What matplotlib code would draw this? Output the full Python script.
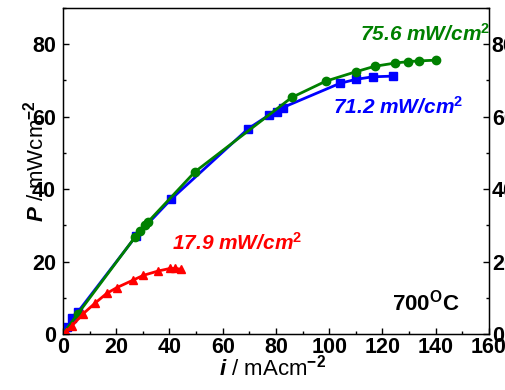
import numpy as np
import matplotlib
matplotlib.use('Agg')
import matplotlib.pyplot as plt
from matplotlib.ticker import MultipleLocator

fam = 'Liberation Sans'
plt.rcParams['font.family'] = fam
plt.rcParams['font.weight'] = 'bold'
plt.rcParams['mathtext.fontset'] = 'custom'
plt.rcParams['mathtext.rm'] = fam + ':bold'
plt.rcParams['mathtext.bf'] = fam + ':bold'
plt.rcParams['mathtext.it'] = fam + ':bold:italic'

# green circles (75.6 mW/cm2)
i_green = [0, 5.5, 27, 28.9, 30.8, 32, 49.6, 85.9, 98.7, 110, 117, 124.7, 129.7, 133.8, 140]
p_green = [0, 5.5, 26.7, 28.4, 30, 31, 44.8, 65.3, 69.8, 72.4, 73.9, 74.8, 75.2, 75.4, 75.6]

# blue squares (71.2 mW/cm2)
i_blue = [0, 1.4, 3.5, 5.6, 27.4, 40.6, 69.6, 77.5, 80.5, 82.5, 104, 110, 116.3, 124]
p_blue = [0, 1.8, 4.3, 6.1, 27, 37.2, 56.7, 60.5, 61.3, 62.5, 69.2, 70.3, 71.0, 71.2]

# red triangles (17.9 mW/cm2)
i_red = [0, 1, 3.3, 7.6, 12, 16.4, 20.2, 26.4, 30.2, 35.8, 40.2, 42, 44.3]
p_red = [0, 0.6, 2.2, 5.6, 8.5, 11.2, 12.8, 14.9, 16.2, 17.4, 18.1, 18.1, 17.9]

fig = plt.figure(figsize=(5.06, 3.90), dpi=100)
ax = fig.add_axes([63/506, 1-334/390, 426/506, 326/390])

ax.plot(i_blue, p_blue, color='#0000ff', marker='s', ms=5.5, lw=2, zorder=3)
ax.plot(i_green, p_green, color='#008000', marker='o', ms=6, lw=2, zorder=4)
ax.plot(i_red, p_red, color='#ff0000', marker='^', ms=6, lw=2, zorder=5)

ax.set_xlim(0, 160)
ax.set_ylim(0, 90)
ax.xaxis.set_major_locator(MultipleLocator(20))
ax.xaxis.set_minor_locator(MultipleLocator(10))
ax.yaxis.set_major_locator(MultipleLocator(20))
ax.yaxis.set_minor_locator(MultipleLocator(10))
ax.tick_params(which='both', direction='in', labelsize=15.5)
ax.tick_params(which='major', length=4, width=1)
ax.tick_params(which='minor', length=2.5, width=1)
ax.tick_params(axis='y', pad=5)
ax.tick_params(axis='x', pad=2)
for s in ax.spines.values():
    s.set_linewidth(1)

ax2 = ax.twinx()
ax2.set_ylim(0, 90)
ax2.yaxis.set_major_locator(MultipleLocator(20))
ax2.yaxis.set_minor_locator(MultipleLocator(10))
ax2.tick_params(which='both', direction='in', labelsize=15.5, pad=2)
ax2.tick_params(which='major', length=4, width=1)
ax2.tick_params(which='minor', length=2.5, width=1)

ax.set_xlabel(r'$\mathit{i}$ / mAcm$^{-2}$', fontsize=16)
ax.set_ylabel(r'$\mathit{P}$ / mWcm$^{-2}$', fontsize=16)
ax.xaxis.set_label_coords(0.493, -0.064)
ax.yaxis.set_label_coords(-0.035, 0.53)

ax.text(111.5, 83, r'75.6 mW/cm$^{\mathit{2}}$', color='#008000', fontsize=15,
        style='italic', ha='left', va='center')
ax.text(101.4, 62.6, r'71.2 mW/cm$^{\mathit{2}}$', color='#0000ff', fontsize=15,
        style='italic', ha='left', va='center')
ax.text(40.9, 25.1, r'17.9 mW/cm$^{\mathit{2}}$', color='#ff0000', fontsize=15,
        style='italic', ha='left', va='center')
ax.text(123.6, 8.6, r'700$^{\mathrm{O}}$C', color='black', fontsize=16,
        ha='left', va='center')

fig.savefig('out.png', dpi=100)
